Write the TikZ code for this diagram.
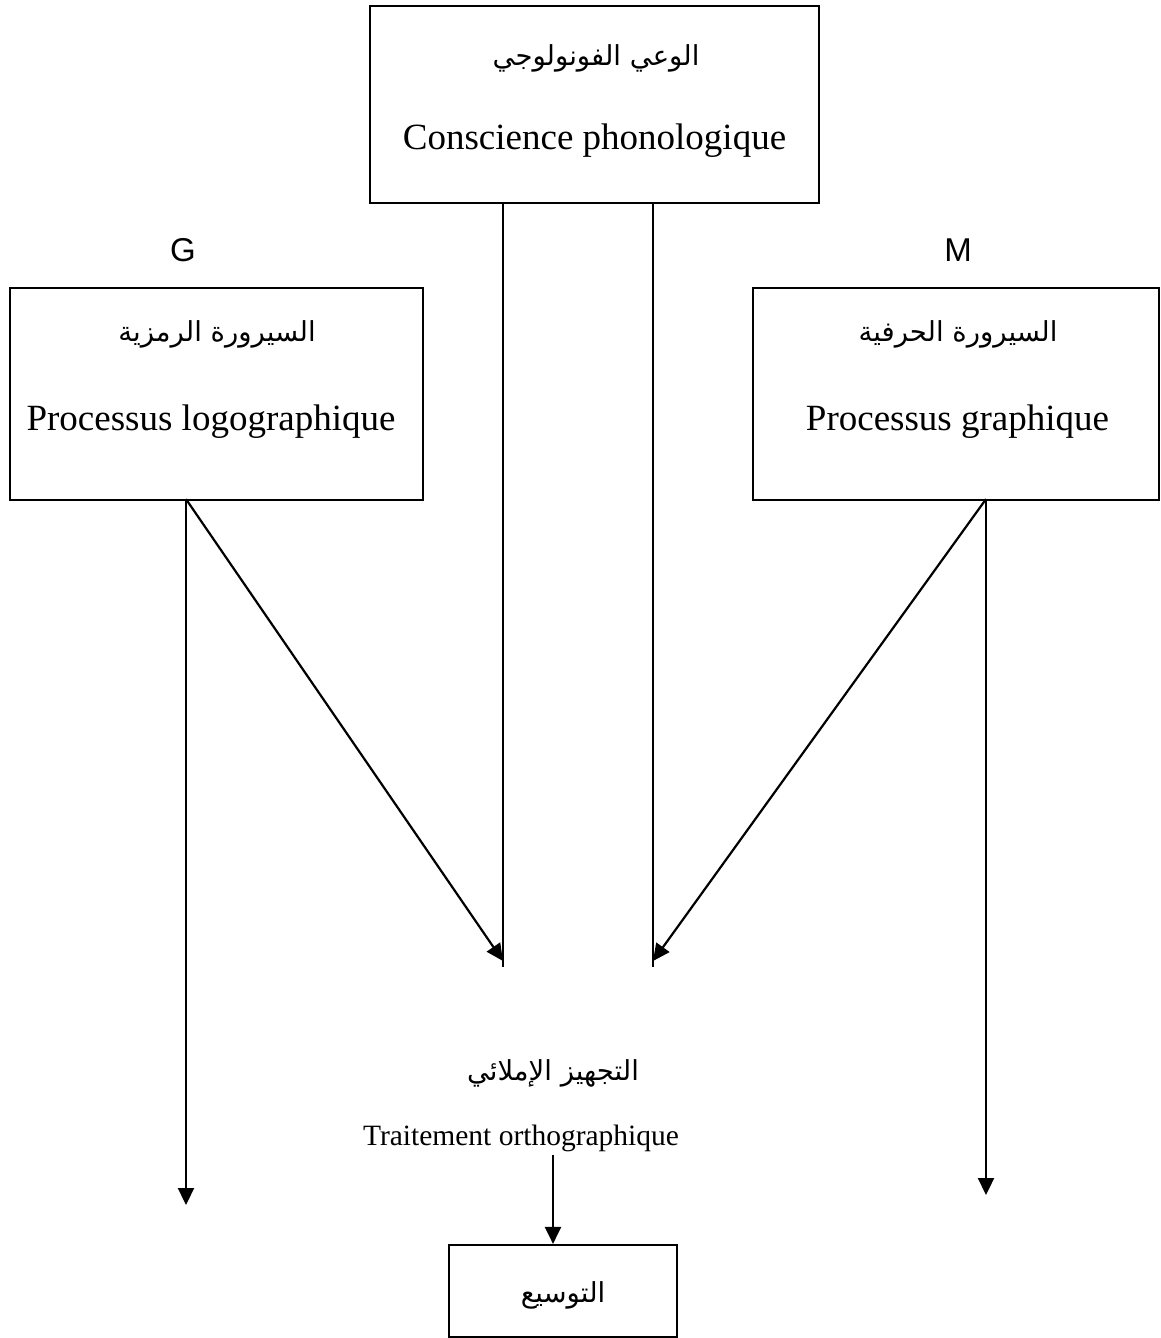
\documentclass[tikz,border=0pt]{standalone}
\usepackage{fontspec}
\setmainfont{Liberation Serif}
\newfontfamily\arabicfont[Script=Arabic]{DejaVu Sans}
\newfontfamily\latinsans{Liberation Sans}
\TeXXeTstate=1
\usetikzlibrary{arrows.meta}
\newcommand{\ar}[1]{{\arabicfont\beginR #1\endR}}
\begin{document}
\begin{tikzpicture}[x=1pt,y=-1pt,
  box/.style={draw, line width=2.2pt, inner sep=0pt},
  lat/.style={font=\fontsize{37}{44}\selectfont, inner sep=0pt, anchor=base},
  latsmall/.style={font=\fontsize{29.5}{35}\selectfont, inner sep=0pt, anchor=base},
  arab/.style={font=\fontsize{27.5}{33}\selectfont, inner sep=0pt, anchor=base},
  tag/.style={font=\latinsans\fontsize{33}{40}\selectfont, inner sep=0pt},
  conn/.style={line width=2.2pt},
  arr/.style={line width=2.2pt, -{Triangle[length=17pt,width=16pt]}}]
\useasboundingbox (0,0) rectangle (1161,1338);

% boxes
\node[box, minimum width=449pt, minimum height=197pt] (top) at (594.5,104.5) {};
\node[box, minimum width=413pt, minimum height=212pt] (left) at (216.5,394) {};
\node[box, minimum width=406pt, minimum height=212pt] (right) at (956,394) {};
\node[box, minimum width=228pt, minimum height=92pt] (bot) at (563,1291) {};

% box texts
\node[arab] (topar) at (596,66) {\ar{الوعي الفونولوجي}};
\node[lat] (toplat) at (594.5,149) {Conscience phonologique};
\node[arab] (leftar) at (217,341) {\ar{السيرورة الرمزية}};
\node[lat] (leftlat) at (211,430) {Processus logographique};
\node[arab] (rightar) at (958,341) {\ar{السيرورة الحرفية}};
\node[lat] (rightlat) at (957.5,430) {Processus graphique};
\node[arab] (botar) at (563,1302) {\ar{التوسيع}};

% labels above the side boxes
\node[tag] (G) at (183,250) {G};
\node[tag] (M) at (958,250) {M};

% central processing labels
\node[arab] (procar) at (553,1080) {\ar{التجهيز الإملائي}};
\node[latsmall] (proclat) at (521,1145) {Traitement orthographique};

% free ends
\coordinate (l1) at (503,967);
\coordinate (l2) at (653,967);
\coordinate (g1) at (186,1205);
\coordinate (m1) at (986,1195);
\coordinate (a1) at (553,1155);

% lines from the top box
\draw[conn] (top.south -| l1) -- (l1);
\draw[conn] (top.south -| l2) -- (l2);

% arrows from the side boxes
\draw[arr] ([yshift=2pt]left.south -| g1) -- ([yshift=6pt]l1);
\draw[arr] ([yshift=2pt]left.south -| g1) -- (g1);
\draw[arr] ([yshift=2pt]right.south -| m1) -- ([yshift=6pt]l2);
\draw[arr] ([yshift=2pt]right.south -| m1) -- (m1);

% arrow to the bottom box
\draw[arr] (a1) -- (a1 |- bot.north);
\end{tikzpicture}
\end{document}
